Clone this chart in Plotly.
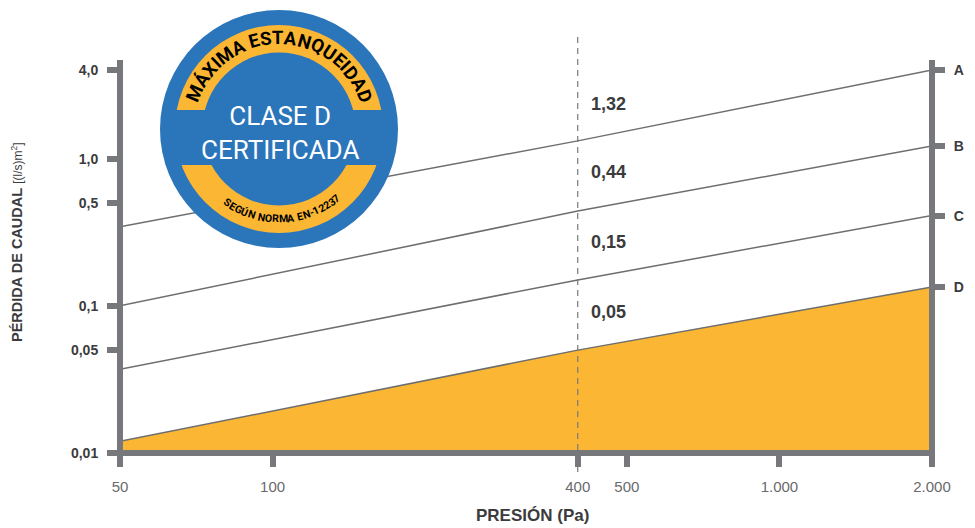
import math
import plotly.graph_objects as go

# Pressure points (Pa) where each class line is defined
pressure = [50, 400, 2000]

# Air leakage (l/s)/m² for each duct airtightness class
class_names = ["A", "B", "C", "D"]
leak_a = [0.345, 1.32, 4.0]
leak_b = [0.10, 0.44, 1.22]
leak_c = [0.037, 0.15, 0.41]
leak_d = [0.012, 0.05, 0.134]
class_leaks = [leak_a, leak_b, leak_c, leak_d]

# Value labels at the 400 Pa reference pressure
ref_pressure = 400
ref_labels = ["1,32", "0,44", "0,15", "0,05"]

# Axis ticks
y_tickvals = [0.01, 0.05, 0.1, 0.5, 1.0, 4.0]
y_ticktext = ["0,01", "0,05", "0,1", "0,5", "1,0", "4,0"]
x_tickvals = [50, 100, 400, 500, 1000, 2000]
x_ticktext = ["50", "100", "400", "500", "1.000", "2.000"]

W, H = 975, 528
ML, MR, MT, MB = 120, 43, 70, 75
PW, PH = W - ML - MR, H - MT - MB

GREY = "#77787b"
LINE = "#6d6e70"
TEXT = "#3b3b3d"
ORANGE = "#fbb733"
BLUE = "#2b75ba"
FONT = "Liberation Sans, Arial, sans-serif"
BADGE_FONT = "Roboto, sans-serif"


def px(x):
    return (x - ML) / PW


def py(y):
    return (H - MB - y) / PH


fig = go.Figure()

# Baseline for the shaded class-D area
fig.add_trace(go.Scatter(x=[pressure[0], pressure[-1]], y=[y_tickvals[0]] * 2,
                         mode="lines", line=dict(width=0), showlegend=False,
                         hoverinfo="skip"))

for name, vals in zip(class_names[::-1], class_leaks[::-1]):
    fig.add_trace(go.Scatter(
        x=pressure, y=vals, mode="lines", name=name,
        line=dict(color=LINE, width=1.5),
        fill="tonexty" if name == "D" else None,
        fillcolor=ORANGE if name == "D" else None,
        showlegend=False,
    ))

# Invisible trace carrying the right-hand class axis
fig.add_trace(go.Scatter(x=[pressure[-1]] * 4, y=[v[-1] for v in class_leaks],
                         yaxis="y2", mode="markers", marker=dict(opacity=0),
                         showlegend=False, hoverinfo="skip"))

yrange = [math.log10(y_tickvals[0]), math.log10(y_tickvals[-1])]
xrange = [math.log10(pressure[0]), math.log10(pressure[-1])]

fig.update_layout(
    width=W, height=H,
    margin=dict(l=ML, r=MR, t=MT, b=MB),
    paper_bgcolor="white", plot_bgcolor="white",
    font=dict(family=FONT, color=TEXT),
    xaxis=dict(type="log", range=xrange, tickvals=x_tickvals, ticktext=x_ticktext,
               showgrid=False, zeroline=False, showline=False,
               ticks="outside", ticklen=13, tickwidth=6, tickcolor=GREY,
               ticklabelstandoff=7,
               tickfont=dict(size=15, color="#6a6a6c", family=FONT)),
    yaxis=dict(type="log", range=yrange, tickvals=y_tickvals,
               ticktext=[f"<b>{t}</b>" for t in y_ticktext],
               showgrid=False, zeroline=False, showline=False,
               ticks="outside", ticklen=12, tickwidth=6, tickcolor=GREY,
               ticklabelstandoff=6,
               tickfont=dict(size=14, color=TEXT, family=FONT)),
    yaxis2=dict(type="log", range=yrange, overlaying="y", side="right",
                tickvals=[v[-1] for v in class_leaks],
                ticktext=[f"<b>{n}</b>" for n in class_names],
                showgrid=False, zeroline=False, showline=False,
                ticks="outside", ticklen=12, tickwidth=6, tickcolor=GREY,
                ticklabelstandoff=6,
                tickfont=dict(size=14, color=TEXT, family=FONT)),
)

shapes = []
# Axis frame lines
shapes.append(dict(type="line", xref="paper", yref="paper", x0=0, x1=0,
                   y0=py(464), y1=py(60), line=dict(color=GREY, width=6)))
shapes.append(dict(type="line", xref="paper", yref="paper", x0=px(108), x1=px(935),
                   y0=0, y1=0, line=dict(color=GREY, width=6)))
shapes.append(dict(type="line", xref="paper", yref="paper", x0=1, x1=1,
                   y0=py(456), y1=py(60), line=dict(color=GREY, width=6)))
# Reference pressure line
shapes.append(dict(type="line", xref="x", yref="paper", x0=ref_pressure, x1=ref_pressure,
                   y0=py(472), y1=py(35), line=dict(color=GREY, width=1.2, dash="6px,5px")))

# Certification badge
cx, cy = 279, 129


def circle(r, color):
    return dict(type="circle", xref="paper", yref="paper",
                x0=px(cx - r), x1=px(cx + r), y0=py(cy + r), y1=py(cy - r),
                fillcolor=color, line=dict(width=0), layer="above")


shapes.append(circle(119, BLUE))
shapes.append(circle(104, ORANGE))
shapes.append(circle(76.5, BLUE))
shapes.append(dict(type="rect", xref="paper", yref="paper",
                   x0=px(cx - 108), x1=px(cx + 108), y0=py(165), y1=py(110),
                   fillcolor=BLUE, line=dict(width=0), layer="above"))
fig.update_layout(shapes=shapes)

annotations = []

# Labels at the reference pressure
for lab, ypx in zip(ref_labels, [104, 172, 242, 312]):
    annotations.append(dict(x=math.log10(ref_pressure), xref="x", xshift=31,
                            y=py(ypx), yref="paper", text=f"<b>{lab}</b>",
                            showarrow=False, xanchor="center", yanchor="middle",
                            font=dict(size=18, color=TEXT, family=FONT)))

# Axis titles
annotations.append(dict(x=px(532), y=py(515), xref="paper", yref="paper",
                        text="<b>PRESIÓN (Pa)</b>", showarrow=False,
                        xanchor="center", yanchor="middle",
                        font=dict(size=17, color=TEXT, family=FONT)))
annotations.append(dict(x=px(17), y=py(242), xref="paper", yref="paper",
                        text="<b>PÉRDIDA DE CAUDAL</b> <span style='font-size:12px'>[(l/s)m<sup>2</sup>]</span>",
                        textangle=-90, showarrow=False,
                        xanchor="center", yanchor="middle",
                        font=dict(size=14.5, color=TEXT, family=FONT)))

# Badge centre text
annotations.append(dict(x=px(280), y=py(132.5), xref="paper", yref="paper",
                        text="CLASE D<br>CERTIFICADA", showarrow=False,
                        xanchor="center", yanchor="middle", align="center",
                        font=dict(size=26, color="white", family=BADGE_FONT)))

# Approximate relative glyph widths used to space the curved lettering
WIDTHS = {"M": .87, "I": .28, " ": .25, "Q": .69, "T": .61, "-": .35,
          "1": .56, "2": .56, "3": .56, "7": .56, "Ú": .65, "Á": .65,
          "A": .65, "E": .57, "S": .61, "G": .68, "R": .63, "O": .69,
          "N": .71, "U": .65, "D": .66, "X": .63}


def arc_text(text, a_start, a_end, radius, size, upper):
    w = [WIDTHS.get(c, .65) for c in text]
    total = sum(w) - (w[0] + w[-1]) / 2
    pos = 0.0
    for i, ch in enumerate(text):
        if i > 0:
            pos += (w[i - 1] + w[i]) / 2
        ang = a_start + (a_end - a_start) * pos / total
        rad = math.radians(ang)
        x = cx + radius * math.cos(rad)
        y = cy - radius * math.sin(rad)
        rot = 90 - ang if upper else 270 - ang
        rot = (rot + 180) % 360 - 180
        if ch == " ":
            continue
        annotations.append(dict(x=px(x), y=py(y), xref="paper", yref="paper",
                                text=f"<b>{ch}</b>", textangle=rot,
                                showarrow=False, xanchor="center", yanchor="middle",
                                font=dict(size=size, color="black", family=BADGE_FONT)))


arc_text("MÁXIMA ESTANQUEIDAD", 157, 21, 91, 18.5, True)
arc_text("SEGÚN NORMA EN-12237", 235, 309.5, 90, 10.5, False)

fig.update_layout(annotations=annotations)

fig.write_html("out.html")
